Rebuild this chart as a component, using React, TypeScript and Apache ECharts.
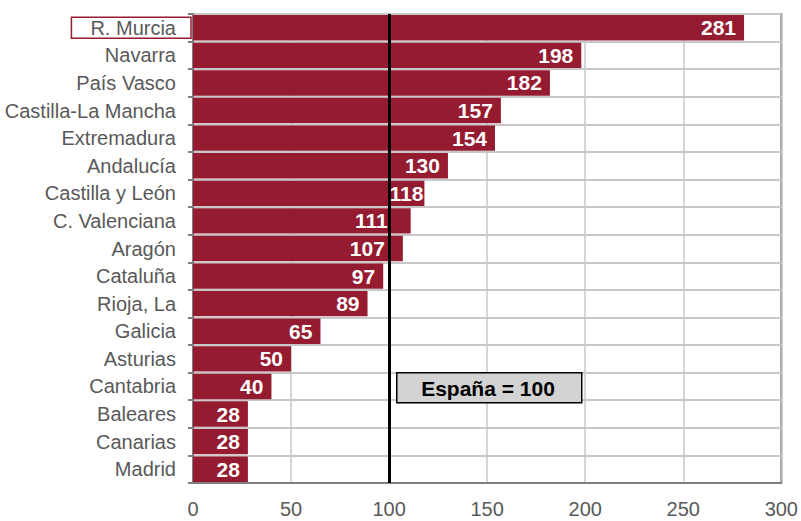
import React, { useEffect, useRef } from "react";
import * as echarts from "echarts";

const categories = [
  "R. Murcia", "Navarra", "País Vasco", "Castilla-La Mancha", "Extremadura",
  "Andalucía", "Castilla y León", "C. Valenciana", "Aragón", "Cataluña",
  "Rioja, La", "Galicia", "Asturias", "Cantabria", "Baleares", "Canarias", "Madrid",
];
const values = [281, 198, 182, 157, 154, 130, 118, 111, 107, 97, 89, 65, 50, 40, 28, 28, 28];
const referenceValue = 100;
const annotationText = "España = 100";

// label distance from bar end (styling: labels nudged away from the reference line)
const labelDistance: Record<string, number> = {
  "Castilla y León": 1,
  "C. Valenciana": 23,
  "Aragón": 18,
};

export default function App() {
  const ref = useRef<HTMLDivElement>(null);
  useEffect(() => {
    if (!ref.current) return;
    const chart = echarts.init(ref.current, undefined, { renderer: "svg" });
    const font = "Liberation Sans, Arial, sans-serif";
    const barData = values.map((v, i) => {
      const d = labelDistance[categories[i]];
      return d !== undefined ? { value: v, label: { distance: d } } : v;
    });
    chart.setOption({
      animation: false,
      textStyle: { fontFamily: font },
      grid: {
        left: 193, right: 19, top: 14, bottom: 38,
        show: true, borderColor: "#7f7f7f", borderWidth: 2,
      },
      xAxis: {
        type: "value", min: 0, max: 300, interval: 50,
        axisLine: { show: true, lineStyle: { color: "#7f7f7f", width: 2 } },
        axisTick: { show: false },
        splitLine: { show: true, lineStyle: { color: "#c8c8c8", width: 1.5 } },
        axisLabel: { color: "#595959", fontSize: 20, margin: 16, fontFamily: font },
      },
      yAxis: {
        type: "category", inverse: true, data: categories,
        axisLine: { show: true, lineStyle: { color: "#7f7f7f", width: 2 } },
        axisTick: { show: true, length: 5, lineStyle: { color: "#7f7f7f", width: 2 } },
        splitLine: { show: true, lineStyle: { color: "#c8c8c8", width: 2 } },
        axisLabel: {
          margin: 2,
          formatter: (v: string, i: number) => (i === 0 ? `{box|${v}}` : `{n|${v}}`),
          rich: {
            box: {
              color: "#595959", fontSize: 20, fontFamily: font,
              padding: [1, 15, 0, 19], borderColor: "#951b30", borderWidth: 1.5,
            },
            n: { color: "#595959", fontSize: 20, fontFamily: font, padding: [0, 15, 0, 0] },
          },
        },
      },
      series: [
        {
          type: "line",
          data: [],
          z: 1,
          markLine: {
            silent: true, symbol: "none",
            label: { show: false },
            lineStyle: { color: "#000", width: 3, type: "solid" },
            data: [{ xAxis: referenceValue }],
          },
        },
        {
          type: "bar",
          data: barData,
          z: 3,
          barCategoryGap: "8%",
          itemStyle: { color: "#951b30" },
          label: {
            show: true, position: "insideRight", color: "#fff",
            fontWeight: "bold", fontSize: 21, fontFamily: font, distance: 8,
          },
        },
      ],
      graphic: [
        {
          type: "rect", left: 396, top: 372, z: 10,
          shape: { width: 185, height: 30 },
          style: { fill: "#d3d3d3", stroke: "#000", lineWidth: 1.5 },
        },
        {
          type: "text", x: 488, y: 388, z: 11,
          style: {
            text: annotationText, fill: "#000", font: `bold 21px ${font}`,
            align: "center", verticalAlign: "middle",
          },
        },
      ],
    });
    return () => chart.dispose();
  }, []);
  return <div ref={ref} style={{ width: 801, height: 521, position: "absolute", left: 0, top: 0 }} />;
}
